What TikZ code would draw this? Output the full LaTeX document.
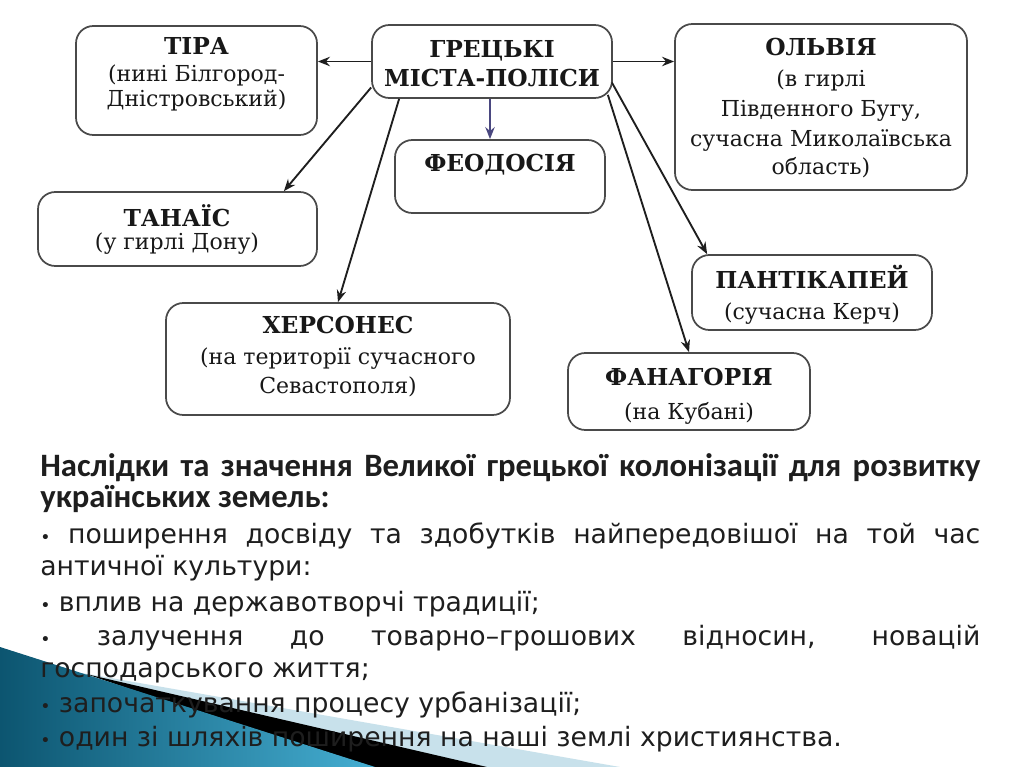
\documentclass[tikz,border=0pt]{standalone}
\usepackage{fontspec}
\setmainfont{DejaVu Serif}
\newfontfamily\bodysans{DejaVu Sans}
\newfontfamily\headsans{Carlito}
\usetikzlibrary{arrows.meta,calc}

\definecolor{boxline}{HTML}{4A4A4A}
\definecolor{ink}{HTML}{181818}
\definecolor{arrowink}{HTML}{1E1E1E}
\definecolor{arrowpurple}{HTML}{4A4880}
\definecolor{tealdark}{HTML}{0C5570}
\definecolor{teallight}{HTML}{45AED2}
\definecolor{paleblue}{HTML}{C8E1EB}
\definecolor{bodyink}{HTML}{1E1E1E}

\newcommand{\smallbullet}{{\fontsize{13}{13}\selectfont •}}

\begin{document}
\begin{tikzpicture}[x=0.75pt,y=-0.75pt,
 cityframe/.style={draw=boxline,line width=1.3pt,rounded corners=13pt,inner sep=0pt},
 ttl/.style={anchor=base,inner sep=0pt,text=ink,font=\fontsize{17.5}{20}\selectfont\bfseries},
 sub/.style={anchor=base,inner sep=0pt,text=ink,font=\fontsize{16.5}{20}\selectfont},
 link/.style={draw=arrowink,line width=1.4pt,-{Stealth[length=9pt,width=7pt]}},
 bodyline/.style={anchor=base west,inner sep=0pt,text=bodyink,font=\bodysans\fontsize{20}{24}\selectfont},
 headline/.style={anchor=base west,inner sep=0pt,text=bodyink,font=\headsans\bfseries\fontsize{24.5}{28}\selectfont},
]
\useasboundingbox (0,0) rectangle (1024,767);
\fill[white] (0,0) rectangle (1024,767);

% bottom-left decoration
\fill[paleblue] (88,674) -- (620,767) -- (0,767) -- (0,662) -- cycle;
\fill[black] (86,674) -- (487,767) -- (360,767) -- cycle;
\shade[left color=tealdark,right color=teallight] (0,647) -- (375,767) -- (0,767) -- cycle;

% city boxes
\node[cityframe,minimum width=180.75pt,minimum height=81.75pt] (tira) at (196.5,80.5) {};
\node[cityframe,minimum width=180pt,minimum height=54.75pt] (greek) at (492,61.5) {};
\node[cityframe,minimum width=219pt,minimum height=124.5pt] (olbia) at (821,107) {};
\node[cityframe,minimum width=157.5pt,minimum height=54.75pt] (feod) at (500,176.5) {};
\node[cityframe,minimum width=209.25pt,minimum height=55.5pt] (tanais) at (177.5,229) {};
\node[cityframe,minimum width=258pt,minimum height=84pt] (chers) at (338,359) {};
\node[cityframe,minimum width=180pt,minimum height=56.25pt] (pant) at (812,292.5) {};
\node[cityframe,minimum width=181.5pt,minimum height=57.75pt] (phan) at (689,391.5) {};

% box texts
\node[ttl] (tiraT) at (196.5,55) {ТІРА};
\node[sub] (tiraA) at (196.5,82) {(нині Білгород-};
\node[sub] (tiraB) at (196.5,107) {Дністровський)};

\node[ttl] (greekT) at (492,58) {ГРЕЦЬКІ};
\node[ttl] (greekA) at (492,86) {МІСТА-ПОЛІСИ};

\node[ttl] (olbiaT) at (821,56) {ОЛЬВІЯ};
\node[sub] (olbiaA) at (821,87) {(в гирлі};
\node[sub] (olbiaB) at (821,117) {Південного Бугу,};
\node[sub] (olbiaC) at (821,146) {сучасна Миколаївська};
\node[sub] (olbiaD) at (821,174) {область)};

\node[ttl] (feodT) at (500,171) {ФЕОДОСІЯ};

\node[ttl] (tanaisT) at (177,226) {ТАНАЇС};
\node[sub] (tanaisA) at (177,249) {(у гирлі Дону)};

\node[ttl] (chersT) at (338,333) {ХЕРСОНЕС};
\node[sub] (chersA) at (338,364) {(на території сучасного};
\node[sub] (chersB) at (338,393) {Севастополя)};

\node[ttl] (pantT) at (812,288) {ПАНТІКАПЕЙ};
\node[sub] (pantA) at (812,319) {(сучасна Керч)};

\node[ttl] (phanT) at (689,385) {ФАНАГОРІЯ};
\node[sub] (phanA) at (689,419) {(на Кубані)};

% connectors
\draw[link] (greek.west) -- (greek.west -| tira.east);
\draw[link] (greek.east) -- (greek.east -| olbia.west);
\draw[link,draw=arrowpurple] ($(greek.south)+(-2,0)$) -- ($(feod.north)+(-10,0)$);
\draw[link] ($(greek.west)+(0,26)$) -- ($(tanais.north east)+(-34,0)$);
\draw[link] ($(greek.south west)+(28,0)$) -- (chers.north);
\draw[link] ($(greek.east)+(-1,21)$) -- ($(pant.north west)+(16,0)$);
\draw[link] ($(greek.south east)+(-5,-4)$) -- (phan.north);

% bottom text
\node[headline] (h1) at (40,476) {\makebox[705pt][s]{Наслідки та значення Великої грецької колонізації для розвитку}};
\node[headline] (h2) at (40,507) {українських земель:};
\node[bodyline] (b1) at (40,543) {\makebox[705pt][s]{\smallbullet{} поширення досвіду та здобутків найпередовішої на той час}};
\node[bodyline] (b1b) at (40,575) {античної культури:};
\node[bodyline] (b2) at (40,611) {\smallbullet{} вплив на державотворчі традиції;};
\node[bodyline] (b3) at (40,645) {\makebox[705pt][s]{\smallbullet{} залучення до товарно–грошових відносин, новацій}};
\node[bodyline] (b3b) at (40,677) {господарського життя;};
\node[bodyline] (b4) at (40,712) {\smallbullet{} започаткування процесу урбанізації;};
\node[bodyline] (b5) at (40,746) {\smallbullet{} один зі шляхів поширення на наші землі християнства.};
\end{tikzpicture}
\end{document}
